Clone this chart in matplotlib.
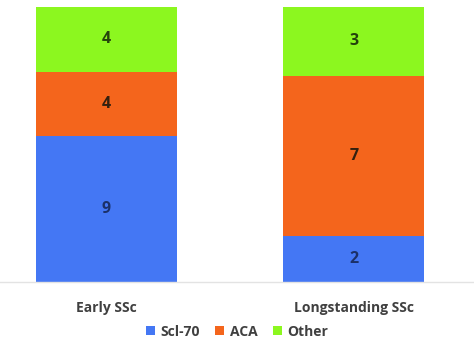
import numpy as np
import matplotlib.pyplot as plt
from matplotlib.patches import Patch

plt.rcParams['font.family'] = ['Open Sans', 'DejaVu Sans']

# antibody counts per group
groups = ['Early SSc', 'Longstanding SSc']
series = ['Scl-70', 'ACA', 'Other']
scl70 = [9, 2]
aca = [4, 7]
other = [4, 3]

colors = ['#4477F4', '#F4651C', '#8CF71F']
text_colors = ['#1B3068', '#33200F', '#24420C']

counts = np.array([scl70, aca, other], dtype=float)
totals = counts.sum(axis=0)
shares = counts / totals

fig = plt.figure(figsize=(4.74, 3.40), dpi=100)
ax = fig.add_axes([0, 0.1706, 1, 0.979 - 0.1706])

x = np.arange(len(groups))
bottom = np.zeros(len(groups))
for vals, share, col, tcol in zip(counts, shares, colors, text_colors):
    ax.bar(x, share, 0.57, bottom=bottom, color=col, edgecolor='none')
    for xi, b, s, v in zip(x, bottom, share, vals):
        ax.text(xi, b + s / 2, f'{int(v)}', ha='center', va='center',
                fontsize=11.5, fontweight='bold', color=tcol)
    bottom += share

ax.set_xlim(-0.430, 1.485)
ax.set_ylim(0, 1)
for side in ['top', 'right', 'left']:
    ax.spines[side].set_visible(False)
ax.spines['bottom'].set_color('#E3E3E3')
ax.spines['bottom'].set_linewidth(1)
ax.set_yticks([])
ax.set_xticks(x)
ax.set_xticklabels(groups, fontsize=10, fontweight='bold', color='#404040')
ax.tick_params(axis='x', length=0, pad=14)

handles = [Patch(facecolor=c, edgecolor='none', label=s) for c, s in zip(colors, series)]
fig.legend(handles=handles, loc='center', bbox_to_anchor=(0.5, 0.025), ncol=3,
           frameon=False, handlelength=0.65, handleheight=0.65, handletextpad=0.4,
           columnspacing=1.1, prop={'size': 10, 'weight': 'bold'}, labelcolor='#404040')

fig.savefig('out.png', dpi=100)
